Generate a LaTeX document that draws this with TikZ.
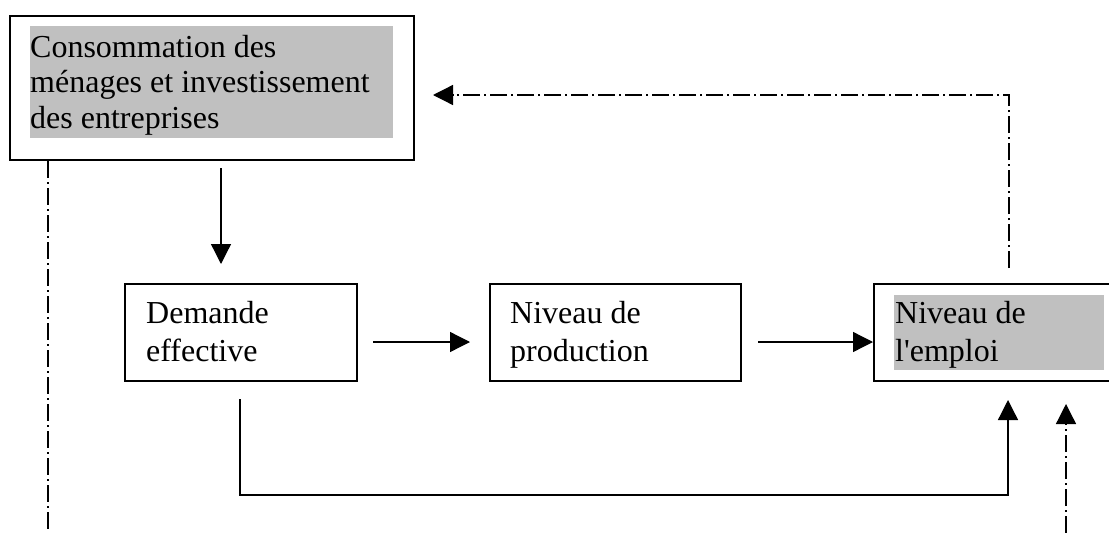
\documentclass[tikz,border=0pt]{standalone}
\usepackage{fontspec}
\setmainfont{Liberation Serif}
\usetikzlibrary{arrows.meta}
\definecolor{hl}{HTML}{C0C0C0}
\begin{document}
\begin{tikzpicture}[x=1pt,y=-1pt,
  box/.style={draw, line width=1.6pt, rectangle, inner sep=0pt, anchor=north west},
  lbl/.style={anchor=base west, inner sep=0pt, font=\fontsize{32}{36}\selectfont},
  conn/.style={line width=1.3pt, -{Triangle[length=20pt,width=20pt]}},
  dd/.style={line width=1.3pt, dash pattern=on 17pt off 4pt on 2pt off 4pt},
  ddarrow/.style={dd, -{Triangle[length=20pt,width=20pt]}}]
\useasboundingbox (0,0) rectangle (1109,533);

% highlights
\fill[hl] (30,26) rectangle (393,138);
\fill[hl] (894,295) rectangle (1104,370);

% boxes
\node[box, minimum width=404pt, minimum height=144pt] (A) at (9,15) {};
\node[box, minimum width=232pt, minimum height=97pt] (B) at (124,283) {};
\node[box, minimum width=251pt, minimum height=97pt] (C) at (489,283) {};
\node[box, minimum width=250pt, minimum height=97pt] (D) at (873,283) {};

% texts
\node[lbl] (a1) at (30,57) {Consommation des};
\node[lbl] (a2) at (30,92.8) {ménages et investissement};
\node[lbl] (a3) at (30,128.5) {des entreprises};
\node[lbl] (b1) at (146,323) {Demande};
\node[lbl] (b2) at (146,361.5) {effective};
\node[lbl] (c1) at (510,323) {Niveau de};
\node[lbl] (c2) at (510,361.5) {production};
\node[lbl] (d1) at (895,323) {Niveau de};
\node[lbl] (d2) at (895,361.5) {l\textquotesingle emploi};

% connector end points
\coordinate (ab1) at (221,168);
\coordinate (ab2) at (221,264);
\coordinate (bc1) at (373,342);
\coordinate (bc2) at (470,342);
\coordinate (cd1) at (758,342);
\coordinate (fb1) at (240,399);
\coordinate (fb2) at (1008,495);
\coordinate (fb3) at (1008,400);
\coordinate (da1) at (1009,268);
\coordinate (da2) at (433,95);
\coordinate (lv1) at (48,161);
\coordinate (lv2) at (48,533);
\coordinate (rv1) at (1066,533);
\coordinate (rv2) at (1066,404);

% solid connectors
\draw[conn] (ab1) -- (ab2);
\draw[conn] (bc1) -- (bc2);
\draw[conn] (cd1) -- (cd1 -| D.west);
\draw[conn] (fb1) |- (fb2) -- (fb3);

% dash-dot connectors
\draw[ddarrow] (da1) |- (da2);
\draw[dd] (lv1) -- (lv2);
\draw[ddarrow] (rv1) -- (rv2);
\end{tikzpicture}
\end{document}
